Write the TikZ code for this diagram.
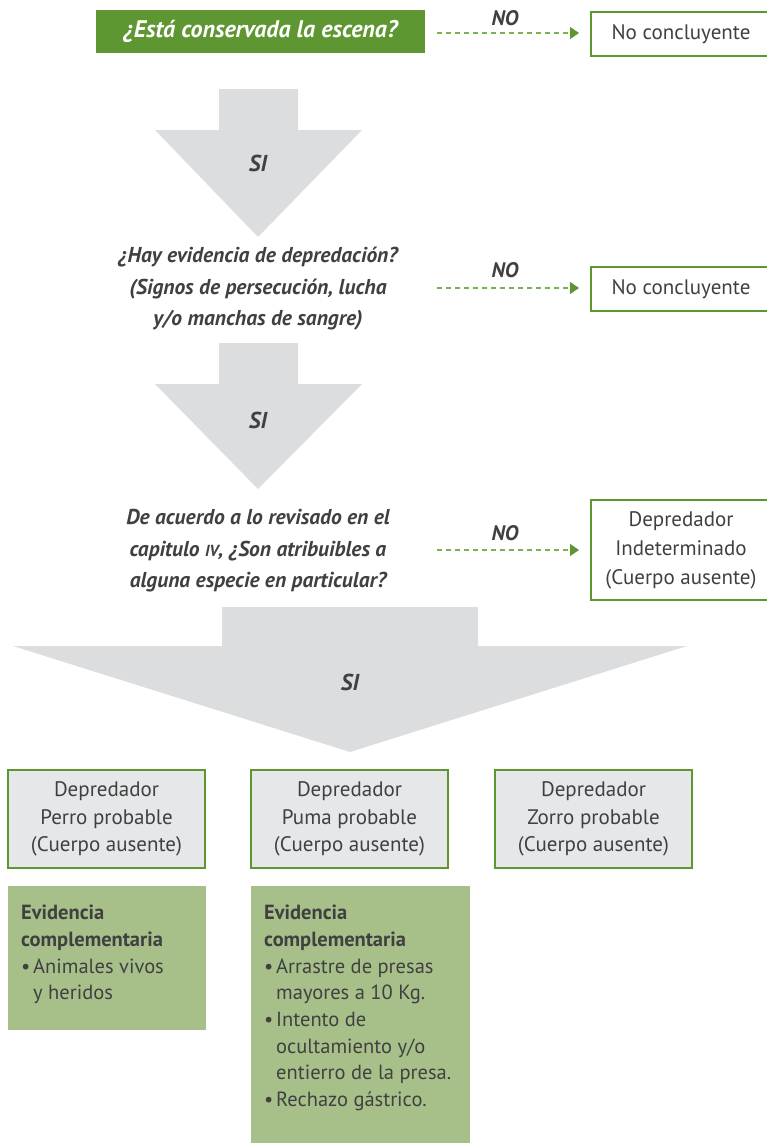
\documentclass[tikz,border=0pt]{standalone}
\usepackage{fontspec}
\setmainfont{PT Sans}
\usetikzlibrary{arrows.meta, positioning}
\definecolor{sagegreen}{RGB}{94,151,50}
\definecolor{dashgreen}{RGB}{122,178,80}
\definecolor{evidgreen}{RGB}{167,192,138}
\definecolor{arrowgray}{RGB}{220,221,222}
\definecolor{boxgray}{RGB}{230,231,232}
\definecolor{textdark}{RGB}{64,64,65}
\newcommand{\bulitem}{\makebox[12pt][l]{•}}
\newcommand{\bulcont}{\hspace*{12pt}}

\begin{document}
\begin{tikzpicture}[
    x=1pt, y=-1pt,
    question/.style={align=center, font=\fontsize{21.5}{31.5}\selectfont\bfseries\itshape, text=textdark, inner sep=0pt},
    result/.style={rectangle, draw=sagegreen, line width=2pt, fill=white, align=center, font=\fontsize{21}{29}\selectfont, text=textdark, inner sep=0pt},
    predator/.style={rectangle, draw=sagegreen, line width=2pt, fill=boxgray, align=center, font=\fontsize{21}{27.5}\selectfont, text=textdark, minimum width=197pt, minimum height=98pt, inner sep=0pt},
    evidence/.style={rectangle, fill=evidgreen, inner sep=0pt},
    evtext/.style={anchor=north west, align=left, font=\fontsize{20.5}{26.7}\selectfont, text=textdark, inner sep=0pt},
    nolabel/.style={font=\fontsize{21}{21}\selectfont\bfseries\itshape, text=textdark},
    silabel/.style={font=\fontsize{23}{23}\selectfont\bfseries\itshape, text=textdark},
    noarrow/.style={-{Triangle[length=9pt, width=12pt, color=sagegreen]}, draw=dashgreen, line width=1.2pt, dash pattern=on 5pt off 4pt},
]
\useasboundingbox (0,0) rectangle (767,1143);
\clip (0,0) rectangle (767,1143);

% Big grey arrows (SI)
\fill[arrowgray] (219,89) -- (298,89) -- (298,130) -- (362,130) -- (258,237) -- (155,130) -- (219,130) -- cycle;
\node[silabel] (si1) at (258,163) {SI};
\fill[arrowgray] (219,343) -- (298,343) -- (298,384) -- (362,384) -- (258,489) -- (155,384) -- (219,384) -- cycle;
\node[silabel] (si2) at (258,420) {SI};
\fill[arrowgray] (222,607) -- (478,607) -- (478,646) -- (687,646) -- (350,752) -- (13,646) -- (222,646) -- cycle;
\node[silabel] (si3) at (350,682) {SI};

% Questions
\node[rectangle, fill=sagegreen, minimum width=329pt, minimum height=43pt, inner sep=0pt,
      font=\fontsize{24}{24}\selectfont\bfseries\itshape, text=white] (q1) at (260.5,31.5) {¿Está conservada la escena?};
\node[question] (q2) at (258,289) {¿Hay evidencia de depredación?\\(Signos de persecución, lucha\\y/o manchas de sangre)};
\node[question] (q3) at (258,551) {De acuerdo a lo revisado en el\\capitulo {\fontsize{16}{16}\selectfont IV}, ¿Son atribuibles a\\alguna especie en particular?};

% NO outcomes
\node[result, minimum width=180pt, minimum height=44pt] (res1) at (681,34) {No concluyente};
\node[result, minimum width=180pt, minimum height=44pt] (res2) at (681,289) {No concluyente};
\node[result, minimum width=180pt, minimum height=100pt] (res3) at (681,550) {Depredador\\Indeterminado\\(Cuerpo ausente)};

\coordinate (no1) at (437,33);
\coordinate (no2) at (437,288);
\coordinate (no3) at (437,550);
\draw[noarrow, shorten >=11pt] (no1) -- (no1 -| res1.west);
\draw[noarrow, shorten >=11pt] (no2) -- (no2 -| res2.west);
\draw[noarrow, shorten >=11pt] (no3) -- (no3 -| res3.west);
\node[nolabel] (nol1) at (505,18) {NO};
\node[nolabel] (nol2) at (505,270) {NO};
\node[nolabel] (nol3) at (505,533) {NO};

% Probable predators
\node[predator] (perro) at (106.5,819) {Depredador\\Perro probable\\(Cuerpo ausente)};
\node[predator] (puma) at (349.5,819) {Depredador\\Puma probable\\(Cuerpo ausente)};
\node[predator] (zorro) at (593.5,819) {Depredador\\Zorro probable\\(Cuerpo ausente)};

% Complementary evidence
\node[evidence, minimum width=198pt, minimum height=144pt, anchor=north west] (evperro) at (8,886) {};
\node[evidence, minimum width=219pt, minimum height=262pt, anchor=north west] (evpuma) at (251,886) {};
\node[evtext] (evperrotxt) at ([xshift=13pt, yshift=-19pt]evperro.north west)
  {\textbf{Evidencia}\\\textbf{complementaria}\\\bulitem Animales vivos\\\bulcont y heridos};
\node[evtext] (evpumatxt) at ([xshift=13pt, yshift=-19pt]evpuma.north west)
  {\textbf{Evidencia}\\\textbf{complementaria}\\\bulitem Arrastre de presas\\\bulcont mayores a 10 Kg.\\\bulitem Intento de\\\bulcont ocultamiento y/o\\\bulcont entierro de la presa.\\\bulitem Rechazo gástrico.};

\end{tikzpicture}
\end{document}
